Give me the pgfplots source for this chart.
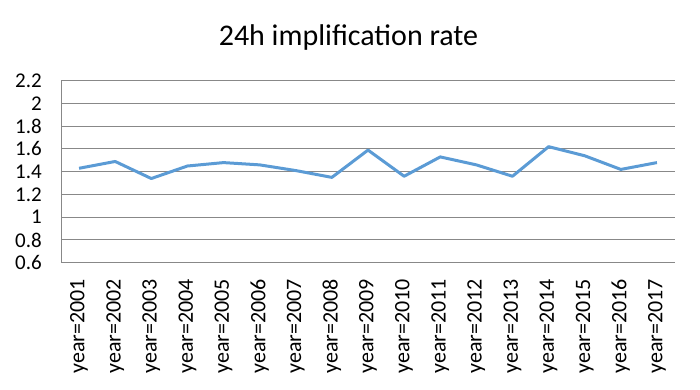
\documentclass[border=0pt]{standalone}
\usepackage{pgfplots}
\pgfplotsset{compat=1.18}
\usepackage{fontspec}
\setmainfont{Carlito}
\definecolor{lineblue}{HTML}{5B9BD5}
\definecolor{gridgray}{HTML}{888888}
\begin{document}
\begin{tikzpicture}[x=1bp,y=1bp]
\path[use as bounding box] (0,0) rectangle (700,389);
\node[anchor=base, font=\fontsize{30bp}{35bp}\selectfont] at (348.5,344) {24h implification rate};
\begin{axis}[
  at={(61bp,126.3bp)}, anchor=south west,
  scale only axis, width=614bp, height=182bp,
  xmin=0.5, xmax=17.5, ymin=0.6, ymax=2.2,
  xtick={1,...,17},
  xticklabels={year=2001,year=2002,year=2003,year=2004,year=2005,year=2006,year=2007,year=2008,year=2009,year=2010,year=2011,year=2012,year=2013,year=2014,year=2015,year=2016,year=2017},
  ytick={0.6,0.8,1,1.2,1.4,1.6,1.8,2,2.2},
  yticklabels={0.6,0.8,1,1.2,1.4,1.6,1.8,2,2.2},
  x tick label style={rotate=90, anchor=east, font=\fontsize{22bp}{26bp}\selectfont, inner sep=0pt},
  y tick label style={anchor=east, font=\fontsize{21bp}{25bp}\selectfont, inner sep=0pt},
  xticklabel shift=16bp,
  yticklabel shift=19bp,
  major tick length=0pt,
  axis x line*=bottom, axis y line*=left,
  axis line style={gridgray, line width=1bp, -},
  ymajorgrids, grid style={gridgray, line width=1bp},
  clip=false,
]
\addplot[lineblue, line width=3bp, line join=round, mark=none] coordinates {
(1,1.43) (2,1.49) (3,1.34) (4,1.45) (5,1.48) (6,1.46) (7,1.41) (8,1.35) (9,1.59)
(10,1.36) (11,1.53) (12,1.46) (13,1.36) (14,1.62) (15,1.54) (16,1.42) (17,1.48)};
\end{axis}
\end{tikzpicture}
\end{document}
